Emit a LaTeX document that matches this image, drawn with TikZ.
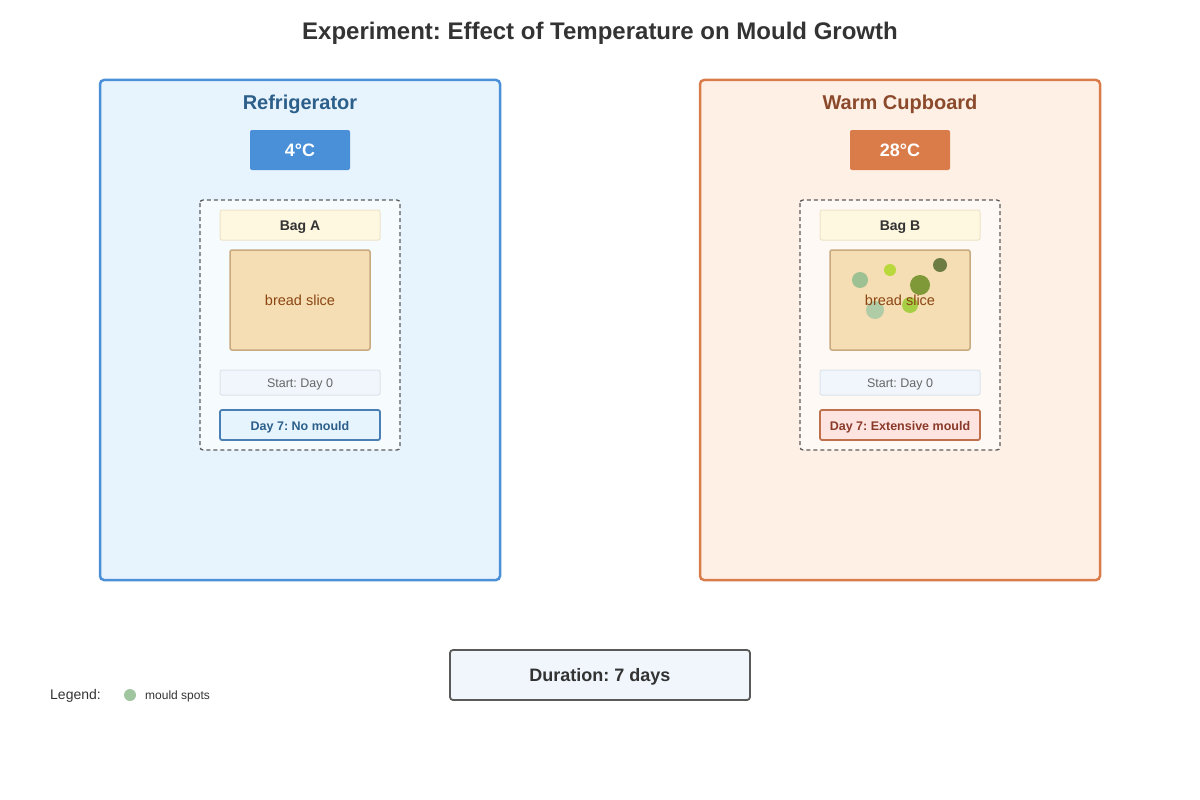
\documentclass[tikz,border=0pt]{standalone}
\usepackage{fontspec}
\setmainfont{Liberation Sans}
\usetikzlibrary{positioning}

\definecolor{inkdark}{HTML}{333333}
\definecolor{fridgeline}{HTML}{4A90D9}
\definecolor{fridgefill}{HTML}{E8F4FD}
\definecolor{fridgetext}{HTML}{2C5F8A}
\definecolor{warmline}{HTML}{D97C4A}
\definecolor{warmfill}{HTML}{FFF0E6}
\definecolor{warmtext}{HTML}{8B4A2B}
\definecolor{labelfill}{HTML}{FFF8E1}
\definecolor{labelline}{HTML}{EDE3C8}
\definecolor{breadfill}{HTML}{F5DEB3}
\definecolor{breadline}{HTML}{C9A97E}
\definecolor{breadtext}{HTML}{8B4513}
\definecolor{startfill}{HTML}{F0F6FC}
\definecolor{startline}{HTML}{DCE3EA}
\definecolor{nomouldfill}{HTML}{E6F5FD}
\definecolor{nomouldline}{HTML}{4A7FB5}
\definecolor{mouldfill}{HTML}{FDE4E0}
\definecolor{mouldline}{HTML}{C0704A}
\definecolor{mouldtext}{HTML}{8B3A2A}
\definecolor{sporesage}{HTML}{8FBC8F}
\definecolor{sporelime}{HTML}{9ACD32}
\definecolor{sporeolive}{HTML}{6B8E23}
\definecolor{sporedark}{HTML}{556B2F}

\newcommand{\fs}[1]{\fontsize{#1}{#1}\selectfont}

\begin{document}
\frenchspacing
\begin{tikzpicture}[x=1pt,y=-1pt,
    panel/.style={rounded corners=4pt, line width=2.5pt},
    tempbox/.style={rounded corners=2pt, inner sep=0pt, minimum width=100pt,
        minimum height=40pt, text=white, font=\fs{18}\bfseries},
    bagbox/.style={draw=inkdark!80, dashed, dash pattern=on 4pt off 3pt,
        line width=1.3pt, rounded corners=3pt},
    baglabel/.style={draw=labelline, fill=labelfill, line width=1pt,
        rounded corners=2pt, inner sep=0pt, minimum width=160pt,
        minimum height=30pt, font=\fs{14}\bfseries, text=inkdark},
    bread/.style={draw=breadline, fill=breadfill, line width=1.5pt,
        rounded corners=2pt, inner sep=0pt, minimum width=140pt,
        minimum height=100pt},
    startbox/.style={draw=startline, fill=startfill, line width=1pt,
        rounded corners=2pt, inner sep=0pt, minimum width=160pt,
        minimum height=25pt, font=\fs{12.5}, text=black!60},
    resultbox/.style={line width=1.8pt, rounded corners=2pt, inner sep=0pt,
        minimum width=160pt, minimum height=30pt, font=\fs{12.5}\bfseries},
    lower/.style={yshift=-2pt},
    spot/.style={circle, inner sep=0pt, opacity=0.85}]

  \useasboundingbox (0,0) rectangle (1200,800);

  % --- title ---------------------------------------------------------
  \node[font=\fs{24}\bfseries, text=inkdark] (title) at (600,33)
      {Experiment: Effect of Temperature on Mould Growth};

  % --- refrigerator panel --------------------------------------------
  \draw[panel, draw=fridgeline, fill=fridgefill] (100,80) rectangle (500,580);
  \node[font=\fs{20}\bfseries, text=fridgetext] (fridge) at (300,104) {Refrigerator};
  \node[tempbox, fill=fridgeline] (fridgetemp) at (300,150) {};
  \node[font=\fs{18}\bfseries, text=white] at (fridgetemp) {4°C};

  \draw[bagbox, fill=white!60!fridgefill] (200,200) rectangle (400,450);
  \node[baglabel] (bagA) at (300,225) {};
  \node[lower, font=\fs{14}\bfseries, text=inkdark] at (bagA) {Bag A};
  \node[bread] (breadA) at (300,300) {};
  \node[font=\fs{14.5}, text=breadtext] (breadAtext) at (breadA) {bread slice};
  \node[startbox] (startA) at (300,382.5) {};
  \node[lower, font=\fs{12.5}, text=black!60] at (startA) {Start: Day 0};
  \node[resultbox, draw=nomouldline, fill=nomouldfill] (resultA) at (300,425) {};
  \node[lower, font=\fs{12.5}\bfseries, text=fridgetext] at (resultA) {Day 7: No mould};

  % --- warm cupboard panel -------------------------------------------
  \draw[panel, draw=warmline, fill=warmfill] (700,80) rectangle (1100,580);
  \node[font=\fs{20}\bfseries, text=warmtext] (cupboard) at (900,104) {Warm Cupboard};
  \node[tempbox, fill=warmline] (warmtemp) at (900,150) {};
  \node[font=\fs{18}\bfseries, text=white] at (warmtemp) {28°C};

  \draw[bagbox, fill=white!60!warmfill] (800,200) rectangle (1000,450);
  \node[baglabel] (bagB) at (900,225) {};
  \node[lower, font=\fs{14}\bfseries, text=inkdark] at (bagB) {Bag B};
  \node[bread] (breadB) at (900,300) {};

  % mould spots: x / y / radius / colour
  \foreach \sx/\sy/\sr/\sc in {860/280/8/sporesage, 890/270/6/sporelime!80!yellow,
      940/265/7/sporedark, 920/285/10/sporeolive, 875/310/9/sporesage!80!white,
      910/305/8/sporelime}
      \fill[\sc, opacity=0.85] (\sx,\sy) circle (\sr);

  \node[font=\fs{14.5}, text=breadtext] (breadBtext) at (breadB) {bread slice};
  \node[startbox] (startB) at (900,382.5) {};
  \node[lower, font=\fs{12.5}, text=black!60] at (startB) {Start: Day 0};
  \node[resultbox, draw=mouldline, fill=mouldfill] (resultB) at (900,425) {};
  \node[lower, font=\fs{12.5}\bfseries, text=mouldtext] at (resultB) {Day 7: Extensive mould};

  % --- duration + legend ---------------------------------------------
  \node[draw=black!65, fill=startfill, line width=1.8pt, rounded corners=3pt,
      inner sep=0pt, minimum width=300pt, minimum height=50pt] (duration)
      at (600,675) {};
  \node[lower, font=\fs{18}\bfseries, text=inkdark] at (duration) {Duration: 7 days};

  \node[anchor=west, inner sep=0pt, font=\fs{14}, text=inkdark] (legend)
      at (50,696) {Legend:};
  \node[spot, fill=sporesage, minimum size=12pt] (legspot) at (130,695) {};
  \node[anchor=west, font=\fs{12}, text=inkdark, inner sep=0pt] (legtext)
      at (145,696) {mould spots};

\end{tikzpicture}
\end{document}
